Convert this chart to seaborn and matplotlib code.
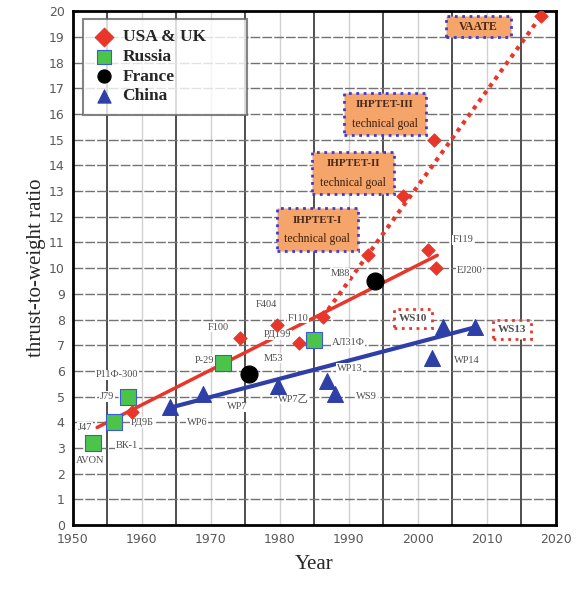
import pandas as pd
import matplotlib.pyplot as plt
from matplotlib.patches import Rectangle
import seaborn as sns

# engine data
usa_year = [1974.2, 1979.6, 1982.8, 1986.2, 1958.6, 1992.8, 2001.4, 2002.6, 1997.8, 2002.3, 2017.8]
usa_twr = [7.3, 7.8, 7.1, 8.1, 4.4, 10.5, 10.7, 10.0, 12.8, 15.0, 19.8]
rus_year = [1952.9, 1955.9, 1958.0, 1971.7, 1984.9]
rus_twr = [3.2, 4.0, 5.0, 6.3, 7.2]
fra_year = [1975.5, 1993.8]
fra_twr = [5.9, 9.5]
chn_year = [1964.1, 1968.8, 1979.7, 1986.8, 1988.0, 2002.0, 2003.6, 2008.3]
chn_twr = [4.6, 5.1, 5.4, 5.6, 5.1, 6.5, 7.7, 7.7]

# trend lines
usa_trend_year = [1953.5, 2002.8]
usa_trend_twr = [3.8, 10.5]
goal_trend_year = [1986.2, 2017.8]
goal_trend_twr = [8.1, 19.8]
chn_trend_year = [1964.5, 2008.3]
chn_trend_twr = [4.6, 7.7]

# engine labels
lbl_text = ["J47", "AVON", "ВК-1", "РД9Б", "J79", "Р11Ф-300", "WP6", "WP7", "P-29",
            "F100", "F404", "РД199", "F110", "M53", "АЛ31Ф", "WP7乙", "WP13", "WS9",
            "WP14", "M88", "F119", "EJ200"]
lbl_x = [1951.7, 1952.5, 1957.8, 1960.0, 1954.9, 1956.4, 1968.0, 1973.8, 1969.1,
         1971.0, 1978.1, 1979.6, 1982.6, 1979.0, 1989.9, 1981.9, 1990.1, 1992.6,
         2007.1, 1988.7, 2006.5, 2007.5]
lbl_y = [3.8, 2.5, 3.1, 4.0, 5.0, 5.85, 4.0, 4.6, 6.4,
         7.7, 8.6, 7.4, 8.05, 6.5, 7.1, 4.9, 6.1, 5.0,
         6.4, 9.8, 11.1, 9.9]

goal_text = ["IHPTET-III", "IHPTET-II", "IHPTET-I"]
goal_x = [1995.2, 1990.6, 1985.4]
goal_y = [16.0, 13.7, 11.5]
vaate_x, vaate_y = 2008.8, 19.4

ws_text = ["WS10", "WS13"]
ws_x = [1999.3, 2013.6]
ws_y = [8.05, 7.6]

groups = ["USA & UK", "Russia", "France", "China"]
df = pd.concat([
    pd.DataFrame({"year": usa_year, "twr": usa_twr, "group": groups[0]}),
    pd.DataFrame({"year": rus_year, "twr": rus_twr, "group": groups[1]}),
    pd.DataFrame({"year": fra_year, "twr": fra_twr, "group": groups[2]}),
    pd.DataFrame({"year": chn_year, "twr": chn_twr, "group": groups[3]}),
])

palette = {"USA & UK": "#e8362a", "Russia": "#4cc44a", "France": "black", "China": "#2f3fa8"}
markers = {"USA & UK": "D", "Russia": "s", "France": "o", "China": "^"}
sizes = {"USA & UK": 45, "Russia": 120, "France": 150, "China": 130}

sns.set_style("white")
plt.rcParams['font.family'] = ['Liberation Serif', 'Noto Sans CJK SC', 'DejaVu Sans']

fig = plt.figure(figsize=(5.77, 5.90), dpi=100)
ax = fig.add_axes([0.1265, 0.110, 0.837, 0.871])

# grid like the scanned chart
for yr in range(1955, 2020, 10):
    ax.axvline(yr, color="0.25", lw=1.3, zorder=0)
for yr in range(1960, 2020, 10):
    ax.axvline(yr, color="0.82", lw=1, zorder=0)
for v in range(1, 20):
    ax.axhline(v, color="0.45", lw=1, ls=(0, (7, 1.5)), zorder=0)

sns.lineplot(x=usa_trend_year, y=usa_trend_twr, color="#e8362a", lw=2.5, ax=ax, zorder=2)
sns.lineplot(x=goal_trend_year, y=goal_trend_twr, color="#e8362a", lw=3, ls=(0, (1, 1.2)), ax=ax, zorder=2)
sns.lineplot(x=chn_trend_year, y=chn_trend_twr, color="#2f3fa8", lw=3, ax=ax, zorder=2)

for g in groups:
    sub = df[df.group == g]
    ec = "#3b5bdb" if g == "Russia" else palette[g]
    sns.scatterplot(data=sub, x="year", y="twr", color=palette[g], marker=markers[g],
                    s=sizes[g], edgecolor=ec, linewidth=0.8, ax=ax, zorder=4, label=g)

for t, x, y in zip(lbl_text, lbl_x, lbl_y):
    ax.text(x, y, t, fontsize=7.5, color="0.3", ha="center", va="center", zorder=3,
            bbox=dict(facecolor="white", edgecolor="none", pad=0.5))

# goal boxes: orange fill, blue dotted border
box_w, box_h = 11.8, 1.65
for t, x, y in zip(goal_text, goal_x, goal_y):
    ax.add_patch(Rectangle((x - box_w / 2, y - box_h / 2), box_w, box_h, facecolor="#f5a46a",
                           edgecolor="#3a3adf", ls=":", lw=2, zorder=5))
    ax.text(x, y + 0.36, t, fontsize=8, fontweight="bold", color="#4a2a1a",
            ha="center", va="center", zorder=6)
    ax.text(x, y - 0.38, "technical goal", fontsize=8.5, color="#3a2010",
            ha="center", va="center", zorder=6)

ax.add_patch(Rectangle((vaate_x - 4.7, vaate_y - 0.4), 9.4, 0.8, facecolor="#f5a46a",
                       edgecolor="#3a3adf", ls=":", lw=2, zorder=5))
ax.text(vaate_x, vaate_y, "VAATE", fontsize=8.5, fontweight="bold", color="#4a2a1a",
        ha="center", va="center", zorder=6)

for t, x, y in zip(ws_text, ws_x, ws_y):
    ax.text(x, y, t, fontsize=8, fontweight="bold", color="0.3", ha="center", va="center",
            zorder=5, bbox=dict(facecolor="white", edgecolor="#e8362a", ls=":", lw=2,
                                boxstyle="square,pad=0.45"))

ax.set_xlim(1950, 2020)
ax.set_ylim(0, 20)
ax.set_xticks(range(1950, 2030, 10))
ax.set_yticks(range(0, 21))
ax.tick_params(direction="in", length=4, width=1.5, labelsize=9, labelcolor="0.35", pad=6)
for lab in ax.get_xticklabels() + ax.get_yticklabels():
    lab.set_family("DejaVu Sans")
for sp in ax.spines.values():
    sp.set_color("black")
    sp.set_linewidth(2)

ax.set_xlabel("Year", fontsize=15, labelpad=6)
ax.set_ylabel("thrust-to-weight ratio", fontsize=15, labelpad=2)

leg = ax.legend(loc="upper left", bbox_to_anchor=(0.02, 0.805, 0.34, 0.18), mode="expand",
                frameon=True, fancybox=False, prop={"weight": "bold", "size": 12.5},
                handletextpad=0.4, borderpad=0.6, labelspacing=0.2, handlelength=1.3,
                borderaxespad=0)
leg.get_frame().set_edgecolor("0.4")
leg.get_frame().set_linewidth(1.5)
leg.set_zorder(7)
for h in leg.legend_handles:
    h.set_sizes([90])

fig.savefig("out.png", dpi=100)
